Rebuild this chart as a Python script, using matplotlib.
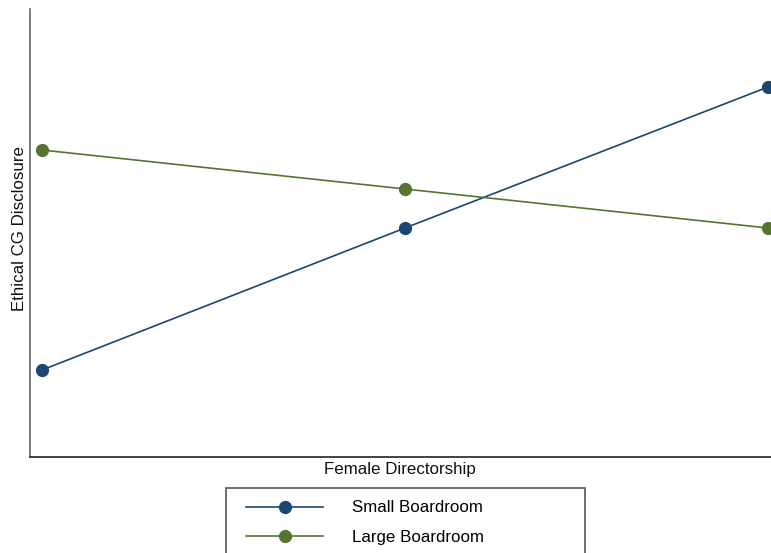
import numpy as np
import matplotlib.pyplot as plt
from matplotlib.patches import Rectangle

plt.rcParams['font.family'] = ['Liberation Sans', 'DejaVu Sans']

# Dados (unidades arbitrarias, sem escala no eixo)
niveis = [0, 1, 2]  # baixo, medio, alto de Female Directorship
small_boardroom = [0.87, 2.29, 3.70]
large_boardroom = [3.07, 2.68, 2.29]
rotulos = ["Small Boardroom", "Large Boardroom"]

NAVY = '#1a476f'
VERDE = '#55752f'

fig = plt.figure(figsize=(7.71, 5.53), dpi=100)
ax = fig.add_axes([30 / 771, 1 - 457 / 553, 741 / 771, 448 / 553])

ax.plot(niveis, small_boardroom, color=NAVY, linewidth=1.2, marker='o',
        markersize=8.5, label=rotulos[0], clip_on=False)
ax.plot(niveis, large_boardroom, color=VERDE, linewidth=1.2, marker='o',
        markersize=8.5, label=rotulos[1], clip_on=False)

ax.set_xlim(-12 / 363, 2 + 3 / 363)
ax.set_ylim(0, 4.48)
ax.set_xticks([])
ax.set_yticks([])
ax.spines['top'].set_visible(False)
ax.spines['right'].set_visible(False)
ax.spines['left'].set_color('#666666')
ax.spines['left'].set_linewidth(1.2)
ax.spines['bottom'].set_color('#222222')
ax.spines['bottom'].set_linewidth(1.2)

ax.set_xlabel("Female Directorship", fontsize=12.2, color='#111111')
ax.set_ylabel("Ethical CG Disclosure", fontsize=12.2, color='#111111')
ax.xaxis.set_label_coords((400 - 30) / 741, -(462 - 457) / 448)
ax.yaxis.set_label_coords(-(30 - 27) / 741, 0.51)

# Legenda com moldura larga, como no original
fig.patches.append(Rectangle((226 / 771, -0.05), 359 / 771, (553 - 488) / 553 + 0.05,
                             transform=fig.transFigure, fill=False,
                             edgecolor='#555555', linewidth=1.2))
fig.legend(loc='upper left', bbox_to_anchor=(238 / 771, 1 - 492 / 553),
           frameon=False, fontsize=12.2, handlelength=4.5, handletextpad=1.7,
           labelspacing=0.85, borderpad=0.0)

fig.savefig("out.png", dpi=100)
